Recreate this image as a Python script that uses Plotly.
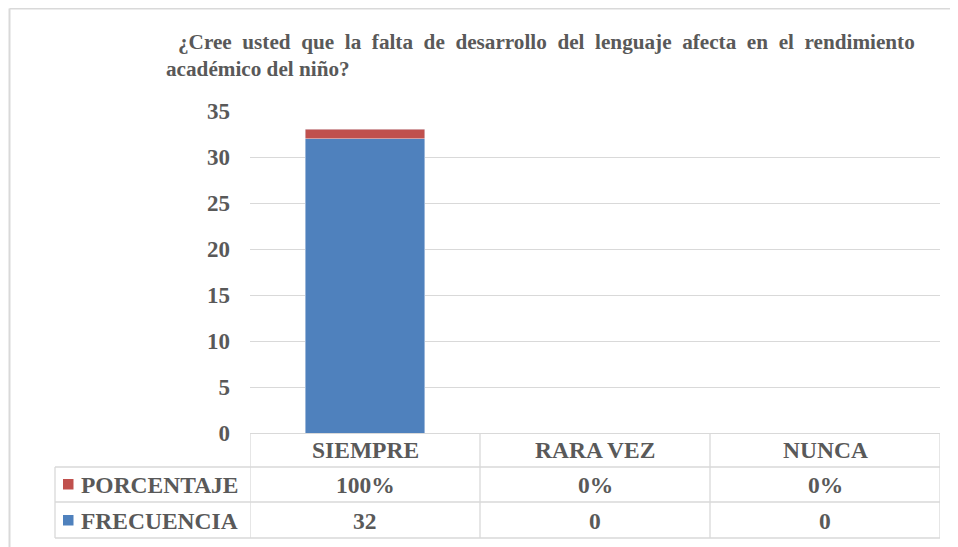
import plotly.graph_objects as go

categories = ["SIEMPRE", "RARA VEZ", "NUNCA"]
frecuencia = [32, 0, 0]
porcentaje = [1.0, 0.0, 0.0]
y_ticks = [0, 5, 10, 15, 20, 25, 30, 35]
title_line1 = "¿Cree usted que la falta de desarrollo del lenguaje afecta en el rendimiento"
title_line2 = "académico del niño?"

OFF = 8  # page body margin
W, H = 958 - OFF, 547 - OFF
# plot area in screen pixels: x 250..940, y 111..433
L, T = 250 - OFF, 111 - OFF
R = W - (940 - OFF)
B = H - (433 - OFF)
PW, PH = W - L - R, H - T - B

def px(xs):
    return (xs - OFF - L) / PW

def py(ys):
    return (H - B - (ys - OFF)) / PH

FONT = "Liberation Serif"
TXT = "#595959"
GRID = "#d9d9d9"
BLUE = "#4F81BD"
RED = "#C0504D"

fig = go.Figure()
fig.add_bar(x=categories, y=frecuencia, name="FRECUENCIA", marker_color=BLUE,
            width=0.52, hoverinfo="skip")
fig.add_bar(x=categories, y=porcentaje, name="PORCENTAJE", marker_color=RED,
            width=0.52, hoverinfo="skip")

shapes = []
line = dict(color=GRID, width=1.3)
# chart border (left and top)
shapes.append(dict(type="line", xref="paper", yref="paper", x0=px(9.5), x1=px(990), y0=py(8.5), y1=py(8.5), line=dict(color=GRID, width=2)))
shapes.append(dict(type="line", xref="paper", yref="paper", x0=px(9.5), x1=px(9.5), y0=py(8.5), y1=py(580), line=dict(color=GRID, width=2)))
# table horizontals
row_y = [467, 502, 538]
for yy in row_y:
    shapes.append(dict(type="line", xref="paper", yref="paper", x0=px(55), x1=1, y0=py(yy), y1=py(yy), line=line))
# table verticals at category boundaries
n = len(categories)
for i in range(n + 1):
    shapes.append(dict(type="line", xref="x", yref="paper", x0=i - 0.5, x1=i - 0.5,
                       y0=0, y1=py(538), line=line))
shapes.append(dict(type="line", xref="paper", yref="paper", x0=px(55), x1=px(55), y0=py(467), y1=py(538), line=line))
# legend keys
shapes.append(dict(type="rect", xref="paper", yref="paper", x0=px(63), x1=px(73.5), y0=py(479), y1=py(489.5), fillcolor=RED, line=dict(width=0)))
shapes.append(dict(type="rect", xref="paper", yref="paper", x0=px(63), x1=px(73.5), y0=py(515), y1=py(525.5), fillcolor=BLUE, line=dict(width=0)))

tfont = dict(family=FONT, size=23.5, color=TXT, weight="bold")
ann = []
for i, c in enumerate(categories):
    ann.append(dict(x=c, xref="x", y=py(450), yref="paper", text=c, showarrow=False, font=tfont, xanchor="center", yanchor="middle"))
    ann.append(dict(x=c, xref="x", y=py(485), yref="paper", text=f"{porcentaje[i]*100:.0f}%", showarrow=False, font=tfont, xanchor="center", yanchor="middle"))
    ann.append(dict(x=c, xref="x", y=py(520.5), yref="paper", text=f"{frecuencia[i]}", showarrow=False, font=tfont, xanchor="center", yanchor="middle"))
ann.append(dict(x=px(79), xref="paper", y=py(485), yref="paper", text="PORCENTAJE", showarrow=False, font=tfont, xanchor="left", yanchor="middle"))
ann.append(dict(x=px(79), xref="paper", y=py(520.5), yref="paper", text="FRECUENCIA", showarrow=False, font=tfont, xanchor="left", yanchor="middle"))

title_font = dict(family=FONT, size=21.2, color=TXT, weight="bold")
line1 = title_line1.replace(" ", " &nbsp;")
ann.append(dict(x=px(176), xref="paper", y=py(42), yref="paper", text=line1, showarrow=False, font=title_font, xanchor="left", yanchor="middle"))
ann.append(dict(x=px(164), xref="paper", y=py(69), yref="paper", text=title_line2, showarrow=False, font=title_font, xanchor="left", yanchor="middle"))

fig.update_layout(
    width=W, height=H,
    margin=dict(l=L, r=R, t=T, b=B, pad=0),
    paper_bgcolor="white", plot_bgcolor="white",
    barmode="stack", showlegend=False,
    shapes=shapes, annotations=ann,
    xaxis=dict(type="category", range=[-0.5, n - 0.5], showticklabels=False, showgrid=False,
               zeroline=False, showline=False, ticks=""),
    yaxis=dict(range=[0, 35], tickvals=y_ticks, showgrid=True, gridcolor=GRID, gridwidth=1.3,
               zeroline=True, zerolinecolor=GRID, zerolinewidth=1.3, showline=False, ticks="",
               tickfont=dict(family=FONT, size=23, color=TXT, weight="bold"), ticklabelstandoff=19),
)

fig.write_html("out.html")
